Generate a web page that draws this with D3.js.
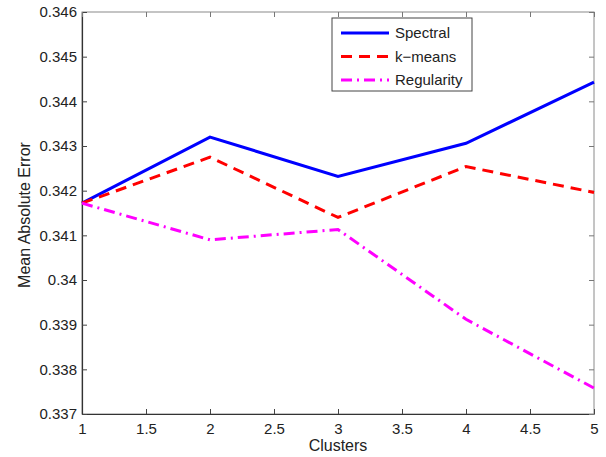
<!DOCTYPE html>
<html>
<head>
<meta charset="utf-8">
<script src="https://cdn.jsdelivr.net/npm/d3@7"></script>
<style>
  body { margin: 0; background: #fff; }
  svg { font-family: "Liberation Sans", Arial, sans-serif; }
</style>
</head>
<body>
<svg id="chart" width="606" height="457"></svg>
<script>
const clusters = [1, 2, 3, 4, 5];
const spectral = [0.34172, 0.34320, 0.34232, 0.34306, 0.34443];
const kmeans = [0.34172, 0.34275, 0.34140, 0.34254, 0.34196];
const regularity = [0.34172, 0.34090, 0.34113, 0.33912, 0.33758];
const xTicks = [1, 1.5, 2, 2.5, 3, 3.5, 4, 4.5, 5];
const yTicks = [0.337, 0.338, 0.339, 0.34, 0.341, 0.342, 0.343, 0.344, 0.345, 0.346];

const series = [
    { name: "Spectral", values: spectral, color: "#0000ff", dash: null },
    { name: "k\u2212means", values: kmeans, color: "#ff0000", dash: "11,7" },
    { name: "Regularity", values: regularity, color: "#ff00ff", dash: "11,5,2,5" }
];

const svg = d3.select("#chart");
const margin = { top: 12, right: 12, bottom: 43, left: 82 };
const width = +svg.attr("width") - margin.left - margin.right;
const height = +svg.attr("height") - margin.top - margin.bottom;
const g = svg.append("g").attr("transform", `translate(${margin.left},${margin.top})`);

const x = d3.scaleLinear().domain([1, 5]).range([0, width]);
const y = d3.scaleLinear().domain([0.337, 0.346]).range([height, 0]);

// box: top/right lighter like the original
g.append("rect")
    .attr("width", width).attr("height", height)
    .attr("fill", "none").attr("stroke", "#8a8a8a");

const xAxis = g.append("g")
    .attr("transform", `translate(0,${height})`)
    .call(d3.axisBottom(x).tickValues(xTicks).tickSizeInner(-5).tickSizeOuter(0).tickPadding(9)
        .tickFormat(d => d3.format("")(d)));
const yAxis = g.append("g")
    .call(d3.axisLeft(y).tickValues(yTicks).tickSizeInner(-5).tickSizeOuter(0).tickPadding(5)
        .tickFormat(d => d3.format("")(d)));

[xAxis, yAxis].forEach(a => {
    a.select(".domain").attr("stroke", "#333").attr("stroke-width", 1.2);
    a.selectAll(".tick line").attr("stroke", "#444");
    a.selectAll("text").attr("fill", "#222").style("font-size", "15px");
});

// top and right ticks
g.append("g").call(d3.axisTop(x).tickValues(xTicks).tickSizeInner(-5).tickSizeOuter(0).tickFormat(""))
    .call(s => s.select(".domain").remove())
    .selectAll(".tick line").attr("stroke", "#777");
g.append("g").attr("transform", `translate(${width},0)`)
    .call(d3.axisRight(y).tickValues(yTicks).tickSizeInner(-5).tickSizeOuter(0).tickFormat(""))
    .call(s => s.select(".domain").remove())
    .selectAll(".tick line").attr("stroke", "#777");

const line = d3.line()
    .x((d, i) => x(clusters[i]))
    .y(d => y(d));

series.forEach(s => {
    g.append("path")
        .datum(s.values)
        .attr("fill", "none")
        .attr("stroke", s.color)
        .attr("stroke-width", 3)
        .attr("stroke-dasharray", s.dash)
        .attr("d", line);
});

// axis labels
svg.append("text")
    .attr("x", margin.left + width / 2).attr("y", 451)
    .attr("text-anchor", "middle")
    .style("font-size", "16px").attr("fill", "#222")
    .text("Clusters");
svg.append("text")
    .attr("transform", `translate(30,${margin.top + height / 2 + 2}) rotate(-90)`)
    .attr("text-anchor", "middle")
    .style("font-size", "16px").attr("fill", "#222")
    .text("Mean Absolute Error");

// legend
const legend = svg.append("g").attr("transform", "translate(332,18)");
legend.append("rect")
    .attr("width", 140).attr("height", 73)
    .attr("fill", "#fff").attr("stroke", "#444");
series.forEach((s, i) => {
    const yy = 15 + i * 23.5;
    legend.append("line")
        .attr("x1", 9).attr("x2", 57).attr("y1", yy).attr("y2", yy)
        .attr("stroke", s.color).attr("stroke-width", 3)
        .attr("stroke-dasharray", s.dash);
    legend.append("text")
        .attr("x", 63).attr("y", yy + 5)
        .style("font-size", "15px").attr("fill", "#222")
        .text(s.name);
});
</script>
</body>
</html>
